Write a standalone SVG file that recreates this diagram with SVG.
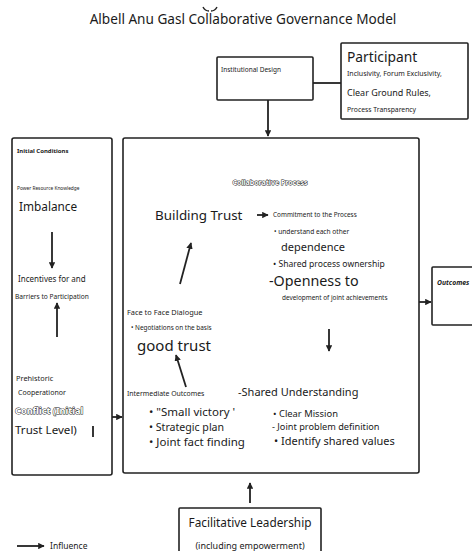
<svg xmlns="http://www.w3.org/2000/svg" width="472" height="551" viewBox="0 0 472 551">
<defs>
<style>
text{font-family:"Noto Sans","Open Sans","DejaVu Sans",sans-serif;fill:#1a1a1a}
.box{fill:#fff;stroke:#222;stroke-width:1.6}
.ln{stroke:#222;stroke-width:1.8;fill:none}
.out{fill:#fff;stroke:#222;stroke-width:0.9;font-weight:bold;paint-order:stroke}
</style>
<marker id="ah" viewBox="0 0 10 10" refX="9" refY="5" markerWidth="3.6" markerHeight="3.6" orient="auto"><path d="M0,0 L10,5 L0,10 z" fill="#222"/></marker>
</defs>
<rect width="472" height="551" fill="#fff"/>
<text x="243" y="24" font-size="13.6" text-anchor="middle">Albell Anu Gasl Collaborative Governance Model</text>
<path d="M203,7 q2,4 6,4 M217,7 q-2,4 -6,4" stroke="#222" stroke-width="1.4" fill="none"/>

<g id="institutional-design">
<rect class="box" x="217" y="57" width="96" height="43" rx="1"/>
<text x="221" y="72" font-size="6.5">Institutional Design</text>
</g>
<g id="participant">
<rect class="box" x="341" y="43" width="127" height="76" rx="1"/>
<text x="347" y="62" font-size="13.8">Participant</text>
<text x="347" y="76" font-size="7">Inclusivity, Forum Exclusivity,</text>
<text x="347" y="96" font-size="9">Clear Ground Rules,</text>
<text x="347" y="112" font-size="6.8">Process Transparency</text>
</g>
<g id="initial-conditions">
<rect class="box" x="12" y="138" width="100" height="337" rx="2"/>
<text x="17" y="153" font-size="6" font-weight="bold">Initial Conditions</text>
<text x="17" y="190" font-size="4.8">Power Resource Knowledge</text>
<text x="19" y="211" font-size="11.8">Imbalance</text>
<text x="18" y="282" font-size="8">Incentives for and</text>
<text x="15" y="299" font-size="6.6">Barriers to Participation</text>
<text x="16" y="381" font-size="7.4">Prehistoric</text>
<text x="18" y="395" font-size="7">Cooperationor</text>
<text class="out" x="15" y="414" font-size="9.2">Conflict (Initial</text>
<text x="15" y="434" font-size="11.6">Trust Level)</text>
<line class="ln" x1="93" y1="426" x2="93" y2="437" stroke-width="2"/>
<line class="ln" x1="52" y1="232" x2="52" y2="268" marker-end="url(#ah)"/>
<line class="ln" x1="57" y1="337" x2="57" y2="303" marker-end="url(#ah)"/>
</g>
<g id="collaborative-process">
<rect class="box" x="123" y="138" width="296" height="335" rx="2"/>
<text class="out" x="270" y="185" font-size="7" text-anchor="middle">Collaborative Process</text>
<text x="155" y="220" font-size="13.4">Building Trust</text>
<text x="273" y="217" font-size="6.4">Commitment to the Process</text>
<text x="274" y="234" font-size="6.6">• understand each other</text>
<text x="281" y="251" font-size="11">dependence</text>
<text x="273" y="267" font-size="8.6">• Shared process ownership</text>
<text x="269" y="286" font-size="14.3">-Openness to</text>
<text x="282" y="300" font-size="6.4">development of joint achievements</text>
<text x="127" y="315" font-size="7.4">Face to Face Dialogue</text>
<text x="131" y="330" font-size="6.4">• Negotiations on the basis</text>
<text x="137" y="351" font-size="15">good trust</text>
<text x="127" y="396" font-size="6.9">Intermediate Outcomes</text>
<text x="238" y="396" font-size="11">-Shared Understanding</text>
<text x="149" y="416" font-size="11.5">• "Small victory '</text>
<text x="149" y="431" font-size="10.6">• Strategic plan</text>
<text x="149" y="446" font-size="11.5">• Joint fact finding</text>
<text x="273" y="417" font-size="9.4">• Clear Mission</text>
<text x="272" y="430" font-size="9.2">- Joint problem definition</text>
<text x="274" y="445" font-size="11">• Identify shared values</text>
</g>
<g id="outcomes">
<rect class="box" x="432" y="267" width="50" height="58" rx="1"/>
<text x="437" y="285" font-size="6.8" font-weight="bold" font-style="italic">Outcomes</text>
</g>
<g id="facilitative-leadership">
<rect class="box" x="179" y="508" width="142" height="60" rx="1"/>
<text x="250" y="527" font-size="11.8" text-anchor="middle">Facilitative Leadership</text>
<text x="250" y="549" font-size="9" text-anchor="middle">(including empowerment)</text>
</g>
<g id="connectors">
<line class="ln" x1="313" y1="83" x2="341" y2="83"/>
<line class="ln" x1="268" y1="100" x2="268" y2="136" marker-end="url(#ah)"/>
<line class="ln" x1="112" y1="417" x2="122" y2="417" marker-end="url(#ah)"/>
<line class="ln" x1="419" y1="302" x2="431" y2="302" marker-end="url(#ah)"/>
<line class="ln" x1="250" y1="503" x2="250" y2="483" marker-end="url(#ah)"/>
<line class="ln" x1="257" y1="215" x2="268" y2="215" marker-end="url(#ah)"/>
<line class="ln" x1="180" y1="284" x2="191" y2="243" marker-end="url(#ah)"/>
<line class="ln" x1="186" y1="387" x2="176" y2="355" marker-end="url(#ah)"/>
<line class="ln" x1="329" y1="329" x2="329" y2="351" marker-end="url(#ah)"/>
</g>
<g id="legend">
<line class="ln" x1="17" y1="546" x2="44" y2="546" marker-end="url(#ah)"/>
<text x="50" y="549" font-size="8.5">Influence</text>
</g>
</svg>
